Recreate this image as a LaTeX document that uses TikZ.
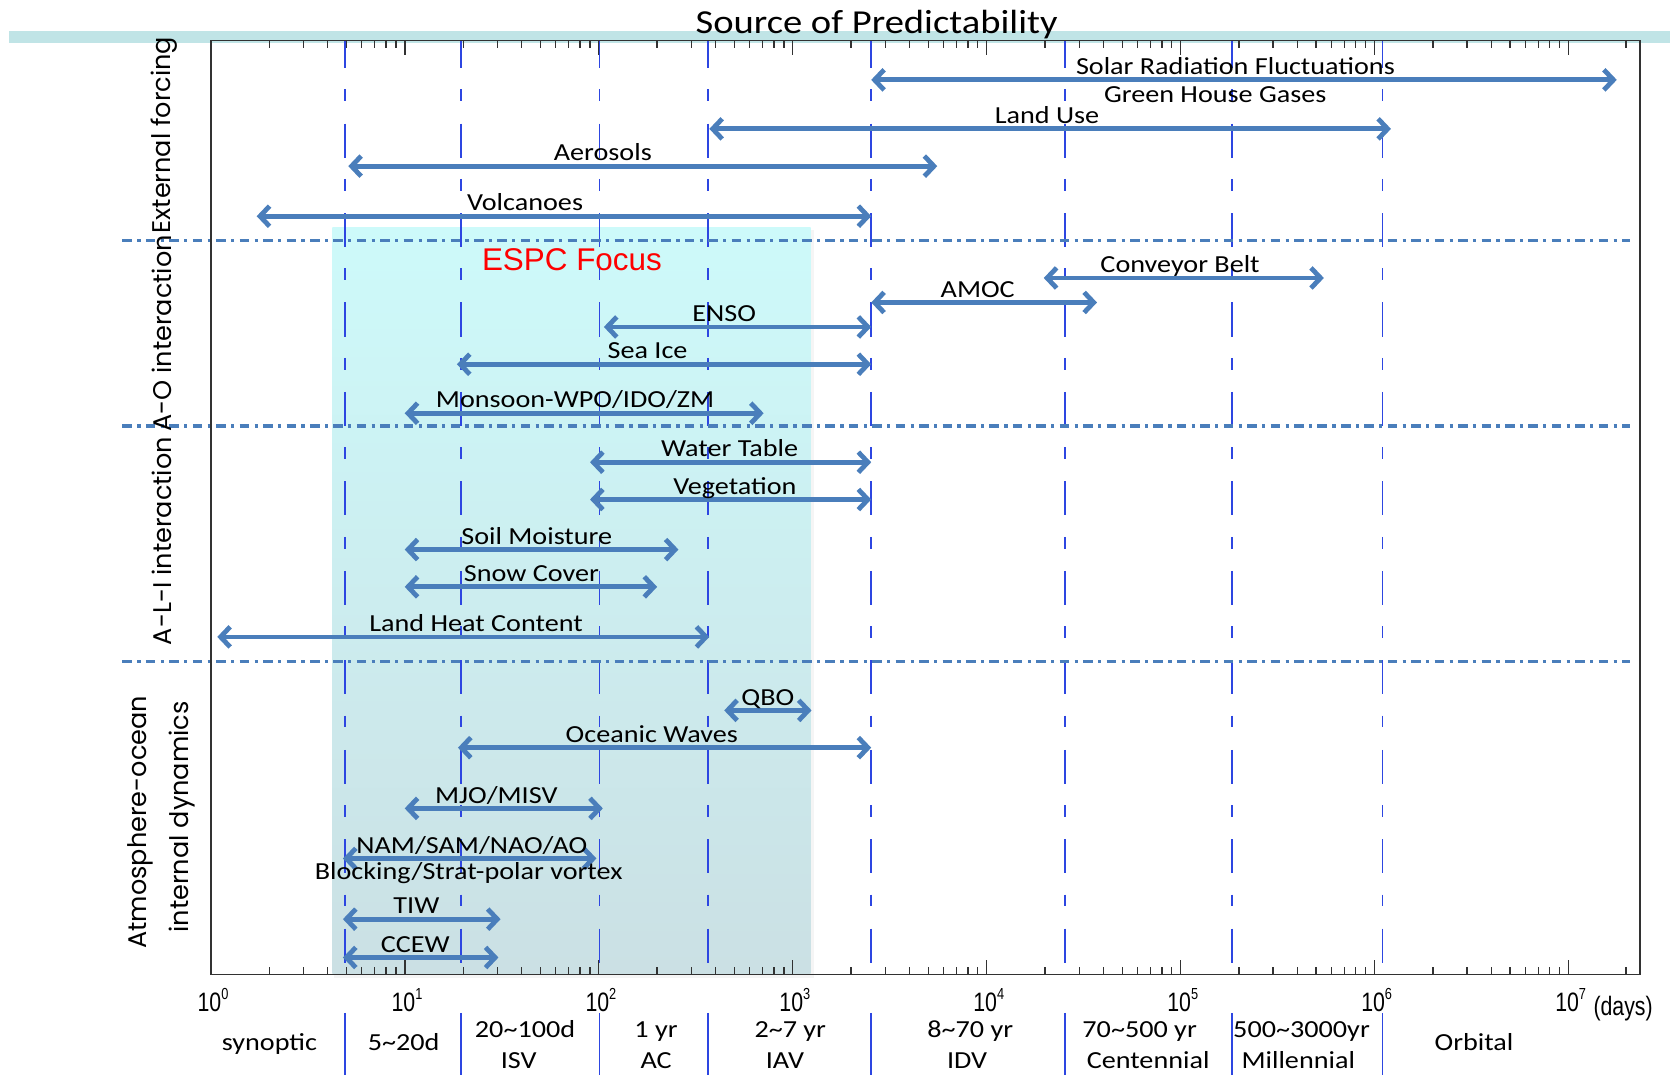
\documentclass[tikz,border=0pt]{standalone}
\usepackage{fontspec}
\setmainfont{Carlito}
\newfontfamily\labfont[FakeStretch=1.15]{Carlito}
\newfontfamily\sidefont{Poppins}
\newfontfamily\focusfont{Liberation Sans}
\newfontfamily\tickfont[FakeStretch=0.8]{Liberation Sans}
\usetikzlibrary{arrows.meta}

\definecolor{arrowblue}{RGB}{74,126,187}
\definecolor{gridblue}{RGB}{45,70,225}
\definecolor{barteal}{RGB}{192,228,230}
\definecolor{focustop}{RGB}{205,250,250}
\definecolor{focusbot}{RGB}{203,224,228}
\definecolor{axisgray}{RGB}{50,50,50}
\newcommand{\tld}{\char"007E\relax}
\newcommand{\myrange}[6]{%
  \coordinate (#1L) at (#2,#4);
  \coordinate (#1R) at (#3,#4);
  \draw[rangebar] (#1L) -- (#1R);
  \node[rlabel] (#1T) at (#6,#4-5) {#5};}

\begin{document}
\begin{tikzpicture}[x=1pt,y=-1pt,
  rangebar/.style={draw=arrowblue, line width=4.5pt,
    {Straight Barb[length=9pt,width=19pt]}-{Straight Barb[length=9pt,width=19pt]}},
  rlabel/.style={font=\labfont\fontsize{23}{23}\selectfont, anchor=base, inner sep=0pt},
  catlab/.style={font=\labfont\fontsize{23}{23}\selectfont, anchor=base, inner sep=0pt},
  ticklab/.style={font=\tickfont\fontsize{25}{25}\selectfont, anchor=base, inner sep=0pt},
  sidelab/.style={font=\sidefont\fontsize{24}{24}\selectfont, inner sep=0pt, rotate=90},
  vgrid/.style={draw=gridblue, line width=1.5pt, dash pattern=on 32pt off 20pt on 11pt off 21pt, dash phase=6pt},
  sepline/.style={draw=gridblue, line width=1.5pt},
  hsep/.style={draw=arrowblue, line width=3pt, dash pattern=on 9pt off 5pt on 3pt off 5pt},
  tick/.style={draw=axisgray, line width=1.3pt}
]
\useasboundingbox (0,0) rectangle (1568,1009);
\clip (0,0) rectangle (1568,1009);

% top bar and title
\fill[barteal] (8,29) rectangle (1568,40);
\node[font=\labfont\fontsize{31.5}{32}\selectfont, anchor=base, inner sep=0pt] (title) at (823,31) {Source of Predictability};

% ESPC focus region
\fill[black, opacity=0.04] (314,216) rectangle (764,918);
\shade[top color=focustop, bottom color=focusbot] (312,214) rectangle (761,914);
\node[font=\focusfont\fontsize{29.5}{30}\selectfont, text=red, anchor=base, inner sep=0pt] (espc) at (537,254) {ESPC Focus};

% vertical regime boundaries
\foreach \xx/\nm in {324/a,433/b,563/c,665/d,818/e,1000/f,1157/g,1298/h} {
  \coordinate (vt\nm) at (\xx,38);
  \coordinate (vb\nm) at (\xx,915);
  \draw[vgrid] (vt\nm) -- (vb\nm);
  \coordinate (st\nm) at (\xx,951);
  \coordinate (sb\nm) at (\xx,1012);
  \draw[sepline] (st\nm) -- (sb\nm);
}

% horizontal category separators
\foreach \yy/\nm in {226/a,400/b,621/c} {
  \coordinate (hl\nm) at (115,\yy);
  \coordinate (hr\nm) at (1530,\yy);
  \draw[hsep] (hl\nm) -- (hr\nm);
}

% axis box and ticks
\draw[axisgray, line width=1.5pt] (198,38) rectangle (1540,915);
\foreach \d in {0,...,7} {
  \pgfmathsetmacro\xa{198+182.1*\d}
  \draw[tick] (\xa,915) -- (\xa,901.5);
  \draw[tick] (\xa,38) -- (\xa,51.5);
  \node[ticklab] (tl\d) at (\xa+2,950) {10\raisebox{12pt}{\fontsize{15}{15}\selectfont\d}};
}
\foreach \d in {0,...,6} {
  \foreach \m in {2,...,9} {
    \pgfmathsetmacro\xb{198+182.1*(\d+log10(\m))}
    \draw[tick] (\xb,915) -- (\xb,908);
    \draw[tick] (\xb,38) -- (\xb,45);
  }
}
\draw[tick] (1526.8,915) -- (1526.8,908);
\draw[tick] (1526.8,38) -- (1526.8,45);
\node[ticklab, anchor=base west] (days) at (1496,953) {(days)};

% side labels
\node[sidelab] (ext) at (154,127) {External forcing};
\node[sidelab] (ao) at (152,313) {A-O interaction};
\node[sidelab] (ali) at (152,508) {A-L-I interaction};
\node[sidelab] (atm) at (132,772) {Atmosphere-ocean};
\node[sidelab] (intd) at (171,767) {internal dynamics};

% external forcing
\myrange{solar}{818}{1518}{75}{Solar Radiation Fluctuations}{1160}
\node[rlabel] (ghg) at (1141,96) {Green House Gases};
\myrange{landuse}{666}{1306}{121}{Land Use}{983}
\myrange{aero}{327}{880}{156}{Aerosols}{566}
\myrange{volc}{241}{818}{203}{Volcanoes}{493}
% A-O interaction
\myrange{conv}{980}{1243}{261}{Conveyor Belt}{1108}
\myrange{amoc}{818}{1030}{284}{AMOC}{918}
\myrange{enso}{567}{818}{307}{ENSO}{680}
\myrange{seaice}{429}{818}{342}{Sea Ice}{608}
\myrange{mons}{380}{717}{388}{Monsoon-WPO/IDO/ZM}{540}
% A-L-I interaction
\myrange{water}{554}{818}{434}{Water Table}{685}
\myrange{veg}{554}{818}{469}{Vegetation}{690}
\myrange{soil}{380}{637}{516}{Soil Moisture}{504}
\myrange{snow}{380}{617}{551}{Snow Cover}{499}
\myrange{lhc}{204}{666}{598}{Land Heat Content}{447}
% internal dynamics
\myrange{qbo}{680}{762}{667}{QBO}{721}
\myrange{ocw}{430}{818}{702}{Oceanic Waves}{612}
\myrange{mjo}{380}{566}{759}{MJO/MISV}{466}
\myrange{nam}{322}{560}{806}{NAM/SAM/NAO/AO}{443}
\node[rlabel] (block) at (440,826) {Blocking/Strat-polar vortex};
\myrange{tiw}{322}{470}{863}{TIW}{391}
\myrange{ccew}{322}{468}{899}{CCEW}{390}

% timescale categories
\node[catlab] (c1) at (253,986) {synoptic};
\node[catlab] (c2) at (379,986) {5\tld20d};
\node[catlab] (c3a) at (493,974) {20\tld100d};
\node[catlab] (c3b) at (487,1003) {ISV};
\node[catlab] (c4a) at (616,974) {1 yr};
\node[catlab] (c4b) at (616,1003) {AC};
\node[catlab] (c5a) at (742,974) {2\tld7 yr};
\node[catlab] (c5b) at (737,1003) {IAV};
\node[catlab] (c6a) at (911,974) {8\tld70 yr};
\node[catlab] (c6b) at (908,1003) {IDV};
\node[catlab] (c7a) at (1070,974) {70\tld500 yr};
\node[catlab] (c7b) at (1078,1003) {Centennial};
\node[catlab] (c8a) at (1222,974) {500\tld3000yr};
\node[catlab] (c8b) at (1219,1003) {Millennial};
\node[catlab] (c9) at (1384,986) {Orbital};
\end{tikzpicture}
\end{document}
